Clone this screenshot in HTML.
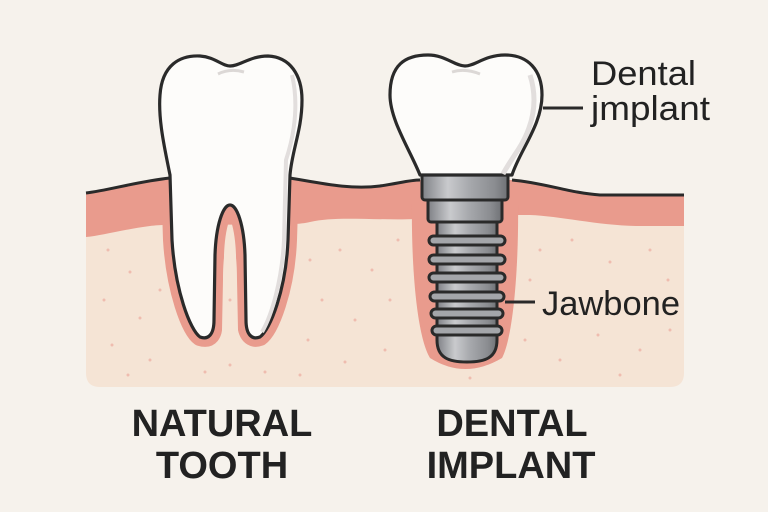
<!DOCTYPE html>
<html><head><meta charset="utf-8"><style>
html,body{margin:0;padding:0;background:#f6f2ec;}
svg{display:block;}
</style></head><body>
<svg width="768" height="512" viewBox="0 0 768 512" xmlns="http://www.w3.org/2000/svg">
<defs>
<linearGradient id="m" x1="0" x2="1" y1="0" y2="0">
<stop offset="0" stop-color="#7f8186"/><stop offset="0.3" stop-color="#c9cacd"/><stop offset="0.55" stop-color="#a7a9ad"/><stop offset="0.85" stop-color="#8a8c90"/><stop offset="1" stop-color="#6f7175"/>
</linearGradient>
<clipPath id="low"><rect x="0" y="186" width="768" height="220"/></clipPath>
<clipPath id="bone"><path d="M86,196 L684,196 L684,373 Q684,387 670,387 L100,387 Q86,387 86,373 Z"/></clipPath>
</defs>
<rect width="768" height="512" fill="#f6f2ec"/>
<path d="M86,196 L684,196 L684,373 Q684,387 670,387 L100,387 Q86,387 86,373 Z" fill="#f5e4d5"/>
<path d="M86,193 C110,190 135,182 170,178 L290,178 C320,183 350,190 380,186 C400,183 410,180 420,180 L515,180 C545,183 570,193 600,195 L684,195 L684,226 L640,226 C600,226 560,216 530,215 C500,215 470,215 440,218 C380,222 340,215 310,222 C290,228 180,222 150,226 C120,230 100,236 86,237 Z" fill="#e99b8d"/>
<path clip-path="url(#low)" d="M170,175 L172,240 C175,290 190,330 200,337 C210,340 214,335 214,320 L215,255 C216,225 223,205 230,205 C237,205 244,225 245,255 L246,320 C246,335 252,340 260,337 C270,330 286,290 288,240 L290,175 Z" fill="#e99b8d" stroke="#e99b8d" stroke-width="18" stroke-linejoin="round"/>
<path clip-path="url(#bone)" d="M230,244 C235,244 237,258 237,280 L238,330 C239,345 242,360 246,390 L214,390 C218,360 221,345 222,330 L223,280 C223,258 225,244 230,244 Z" fill="#f5e4d5"/>
<path d="M412,200 C411,260 416,335 430,358 Q465,380 502,358 C514,335 519,260 518,200 Z" fill="#e99b8d"/>
<g fill="#eeb3a6" opacity="0.8">
<circle cx="108" cy="250" r="1.5"/><circle cx="130" cy="272" r="1.5"/><circle cx="104" cy="300" r="1.5"/><circle cx="140" cy="318" r="1.5"/><circle cx="112" cy="345" r="1.5"/><circle cx="150" cy="360" r="1.5"/><circle cx="128" cy="375" r="1.5"/><circle cx="160" cy="290" r="1.5"/>
<circle cx="230" cy="300" r="1.5"/><circle cx="230" cy="365" r="1.5"/><circle cx="205" cy="372" r="1.5"/><circle cx="265" cy="372" r="1.5"/>
<circle cx="310" cy="260" r="1.5"/><circle cx="340" cy="250" r="1.5"/><circle cx="372" cy="270" r="1.5"/><circle cx="322" cy="300" r="1.5"/><circle cx="355" cy="320" r="1.5"/><circle cx="390" cy="300" r="1.5"/><circle cx="308" cy="340" r="1.5"/><circle cx="345" cy="362" r="1.5"/><circle cx="385" cy="350" r="1.5"/><circle cx="300" cy="375" r="1.5"/><circle cx="398" cy="240" r="1.5"/>
<circle cx="540" cy="250" r="1.5"/><circle cx="572" cy="240" r="1.5"/><circle cx="610" cy="262" r="1.5"/><circle cx="650" cy="250" r="1.5"/><circle cx="668" cy="280" r="1.5"/><circle cx="530" cy="280" r="1.5"/><circle cx="598" cy="335" r="1.5"/><circle cx="640" cy="350" r="1.5"/><circle cx="560" cy="360" r="1.5"/><circle cx="525" cy="340" r="1.5"/><circle cx="670" cy="330" r="1.5"/><circle cx="470" cy="378" r="1.5"/><circle cx="620" cy="375" r="1.5"/>
</g>
<path d="M86,193 C110,190 135,182 170,178 M290,178 C320,183 350,190 380,186 C400,183 410,180 420,180 M512,180 C545,183 570,193 600,195 L684,195" fill="none" stroke="#2a2a2a" stroke-width="3"/>
<path d="M170,175 C165,150 158,120 160,95 C162,65 180,55 200,56 C215,57 222,66 230,66 C240,66 250,56 268,56 C290,57 302,75 302,100 C302,130 292,150 290,175 L288,240 C286,290 270,330 260,337 C252,340 246,335 246,320 L245,255 C244,225 237,205 230,205 C223,205 216,225 215,255 L214,320 C214,335 208,340 200,337 C190,330 175,290 172,240 Z" fill="#fdfcfa" stroke="#2a2a2a" stroke-width="3.2" stroke-linejoin="round"/>
<path d="M292,75 C298,100 296,130 286,160 L284,240 C282,280 272,315 262,332" fill="none" stroke="#e2dedd" stroke-width="4"/>
<path d="M218,74 Q230,68 244,72" fill="none" stroke="#dcd8d6" stroke-width="3"/>
<path d="M437,220 L497,220 L497,340 C497,358 485,362 467,362 C449,362 437,358 437,340 Z" fill="url(#m)" stroke="#2a2a2a" stroke-width="3"/>
<g fill="#a4a6aa" stroke="#2a2a2a" stroke-width="3">
<rect x="429" y="236" width="76" height="9" rx="4.5"/>
<rect x="429" y="255" width="76" height="9" rx="4.5"/>
<rect x="429" y="273" width="76" height="9" rx="4.5"/>
<rect x="430" y="292" width="74" height="9" rx="4.5"/>
<rect x="431" y="309" width="72" height="9" rx="4.5"/>
<rect x="432" y="326" width="70" height="9" rx="4.5"/>
</g>
<rect x="428" y="198" width="74" height="24" rx="3" fill="url(#m)" stroke="#2a2a2a" stroke-width="3"/>
<rect x="422" y="174" width="86" height="26" rx="3" fill="url(#m)" stroke="#2a2a2a" stroke-width="3"/>
<path d="M420,175 C410,150 390,120 390,95 C390,65 405,55 428,55 C445,55 455,66 465,66 C475,66 485,55 505,55 C528,55 542,70 542,95 C542,125 520,150 512,175 Z" fill="#fdfcfa" stroke="#2a2a2a" stroke-width="3.2" stroke-linejoin="round"/>
<path d="M530,75 C538,100 534,125 518,150 C510,162 505,170 503,174" fill="none" stroke="#e2dedd" stroke-width="5"/>
<path d="M452,72 Q465,68 480,74" fill="none" stroke="#dcd8d6" stroke-width="3"/>
<line x1="543" y1="108" x2="583" y2="108" stroke="#2a2a2a" stroke-width="3"/>
<line x1="505" y1="302" x2="535" y2="302" stroke="#2a2a2a" stroke-width="3"/>
<g font-family="Liberation Sans, sans-serif" fill="#222">
<text x="591" y="85" font-size="34" textLength="105" lengthAdjust="spacingAndGlyphs">Dental</text>
<text x="591" y="120" font-size="34" textLength="119" lengthAdjust="spacingAndGlyphs">jmplant</text>
<text x="542" y="315" font-size="34" textLength="138" lengthAdjust="spacingAndGlyphs">Jawbone</text>
<g font-weight="bold" font-size="38" text-anchor="middle">
<text x="222" y="436">NATURAL</text>
<text x="222" y="478">TOOTH</text>
<text x="512" y="436">DENTAL</text>
<text x="511" y="478">IMPLANT</text>
</g>
</g>
</svg>
</body></html>
